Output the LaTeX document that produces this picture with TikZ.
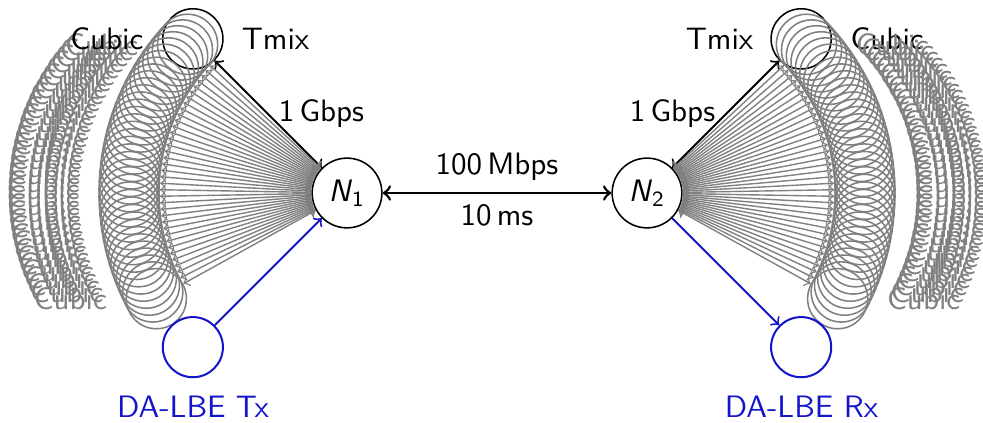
\documentclass[tikz,border=0pt]{standalone}
\usetikzlibrary{calc}
\definecolor{lbeblue}{RGB}{20,20,205}
\begin{document}
\begin{tikzpicture}[x=0.3226pt,y=0.3226pt,font=\sffamily,
  hub/.style={circle,draw,line width=0.5pt,minimum size=22.5pt,inner sep=1pt},
  tmixnode/.style={circle,draw,line width=0.5pt,minimum size=19.4pt},
  flow/.style={circle,draw=gray,line width=0.5pt,minimum size=19.4pt},
  lbe/.style={circle,draw=lbeblue,line width=0.65pt,minimum size=19.4pt},
  access/.style={gray,<->,line width=0.45pt},
  tmixlink/.style={<->,line width=0.65pt},
  lbelink/.style={lbeblue,->,line width=0.6pt},
  flowlabel/.style={text=gray,anchor=center,inner sep=0pt},
  txt/.style={anchor=base,inner sep=0pt}]
\useasboundingbox (0,0) rectangle (983,422);

% bottleneck routers
\node[hub] (N1) at (347,229) {\textit{N}\textsubscript{1}};
\node[hub] (N2) at (647,229) {\textit{N}\textsubscript{2}};

% bottleneck link
\draw[<->,line width=0.85pt] (N1) -- (N2);
\node[txt] (bw) at (497,248) {100\,Mbps};
\node[txt] (dl) at (497,197) {10\,ms};

% ---------- sender side ----------
\node[tmixnode] (tmixL) at ($(N1)+(135:218)$) {};
\draw[tmixlink] (N1) -- (tmixL);
\foreach \a [count=\i] in {209,207,...,137}{
  \node[flow] (gl\i) at ($(N1)+(\a:218)$) {};
  \draw[access] (N1) -- (gl\i);
  \node[flowlabel] (cl\i) at ($(gl\i)+(-86,0)$) {Cubic};
}
\node[inner sep=0pt] (cubicL) at ($(tmixL)+(-86,0)$) {Cubic};
\node[txt] (tmixLtext) at (275.5,372.7) {Tmix};
\node[txt] (gbpsL) at (321.5,300) {1\,Gbps};

\node[lbe] (tx) at ($(N1)+(225:218)$) {};
\draw[lbelink] (tx) -- (N1);
\node[txt,text=lbeblue] (txtext) at (193,5) {DA-LBE Tx};

% ---------- receiver side ----------
\node[tmixnode] (tmixR) at ($(N2)+(45:218)$) {};
\draw[tmixlink] (N2) -- (tmixR);
\node[inner sep=0pt] (cubicR) at ($(tmixR)+(86,0)$) {Cubic};
\foreach \a [count=\i] in {43,41,...,-29}{
  \node[flow] (gr\i) at ($(N2)+(\a:218)$) {};
  \draw[access] (N2) -- (gr\i);
  \node[flowlabel] (cr\i) at ($(gr\i)+(86,0)$) {Cubic};
}
\node[txt] (tmixRtext) at (719.5,372.7) {Tmix};
\node[txt] (gbpsR) at (672.5,300) {1\,Gbps};

\node[lbe] (rx) at ($(N2)+(-45:218)$) {};
\draw[lbelink] (N2) -- (rx);
\node[txt,text=lbeblue] (rxtext) at (801.5,5) {DA-LBE Rx};
\end{tikzpicture}
\end{document}
